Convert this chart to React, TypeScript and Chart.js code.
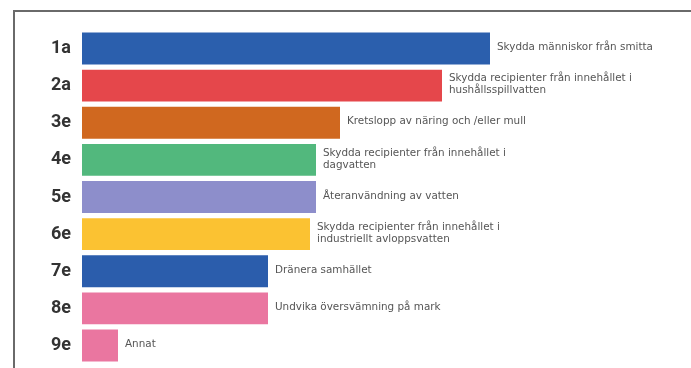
import React, { useEffect, useRef } from "react";
import { Chart, registerables } from "chart.js";

Chart.register(...registerables);

const categories = ["1a", "2a", "3e", "4e", "5e", "6e", "7e", "8e", "9e"];
const values = [68, 60, 43, 39, 39, 38, 31, 31, 6];
const descriptions: string[][] = [
  ["Skydda människor från smitta"],
  ["Skydda recipienter från innehållet i", "hushållsspillvatten"],
  ["Kretslopp av näring och /eller mull"],
  ["Skydda recipienter från innehållet i", "dagvatten"],
  ["Återanvändning av vatten"],
  ["Skydda recipienter från innehållet i", "industriellt avloppsvatten"],
  ["Dränera samhället"],
  ["Undvika översvämning på mark"],
  ["Annat"],
];
const colors = [
  "#2b5fad",
  "#e5474b",
  "#d0681f",
  "#52b87d",
  "#8d8ecb",
  "#fbc232",
  "#2b5dac",
  "#ea76a0",
  "#ea76a0",
];

const framePlugin = {
  id: "frame",
  beforeDraw(chart: any) {
    const ctx = chart.ctx;
    ctx.save();
    ctx.fillStyle = "#ffffff";
    ctx.fillRect(0, 0, chart.width, chart.height);
    ctx.strokeStyle = "#6a6a6a";
    ctx.lineWidth = 2;
    ctx.beginPath();
    ctx.moveTo(14, chart.height);
    ctx.lineTo(14, 11);
    ctx.lineTo(chart.width, 11);
    ctx.stroke();
    ctx.restore();
  },
};

const labelPlugin = {
  id: "barLabels",
  afterDatasetsDraw(chart: any) {
    const ctx = chart.ctx;
    const meta = chart.getDatasetMeta(0);
    ctx.save();
    ctx.fillStyle = "#555555";
    ctx.font = "10.4px 'DejaVu Sans', sans-serif";
    ctx.textBaseline = "middle";
    ctx.textAlign = "left";
    meta.data.forEach((bar: any, i: number) => {
      const lines = descriptions[i];
      const lh = 12;
      const startY = bar.y - ((lines.length - 1) * lh) / 2 - 1;
      lines.forEach((line, j) => {
        ctx.fillText(line, bar.x + 7, startY + j * lh);
      });
    });
    ctx.restore();
  },
};

export default function App() {
  const ref = useRef<HTMLCanvasElement | null>(null);
  useEffect(() => {
    if (!ref.current) return;
    const chart = new Chart(ref.current, {
      type: "bar",
      data: {
        labels: categories,
        datasets: [
          {
            data: values,
            backgroundColor: colors,
            borderWidth: 0,
            barPercentage: 0.86,
            categoryPercentage: 1,
          },
        ],
      },
      options: {
        indexAxis: "y",
        animation: false,
        responsive: false,
        maintainAspectRatio: false,
        devicePixelRatio: 1,
        layout: { padding: { left: 12, top: 30, bottom: 4, right: 9 } },
        plugins: { legend: { display: false }, tooltip: { enabled: false } },
        scales: {
          x: { display: false, min: 0, max: 100 },
          y: {
            grid: { display: false },
            border: { display: false },
            afterFit: (scale: any) => {
              scale.width = 70;
              scale.paddingTop = 0;
              scale.paddingBottom = 0;
            },
            ticks: {
              padding: 3,
              color: "#333333",
              font: { family: "Roboto, sans-serif", size: 18, weight: "bold" },
            },
          },
        },
      },
      plugins: [framePlugin, labelPlugin],
    });
    return () => chart.destroy();
  }, []);
  return (
    <div
      style={{
        position: "fixed",
        left: 0,
        top: 0,
        width: 691,
        height: 368,
        overflow: "hidden",
        background: "#fff",
      }}
    >
      <canvas
        ref={ref}
        width={691}
        height={368}
        style={{ display: "block", width: 691, height: 368 }}
      />
    </div>
  );
}
